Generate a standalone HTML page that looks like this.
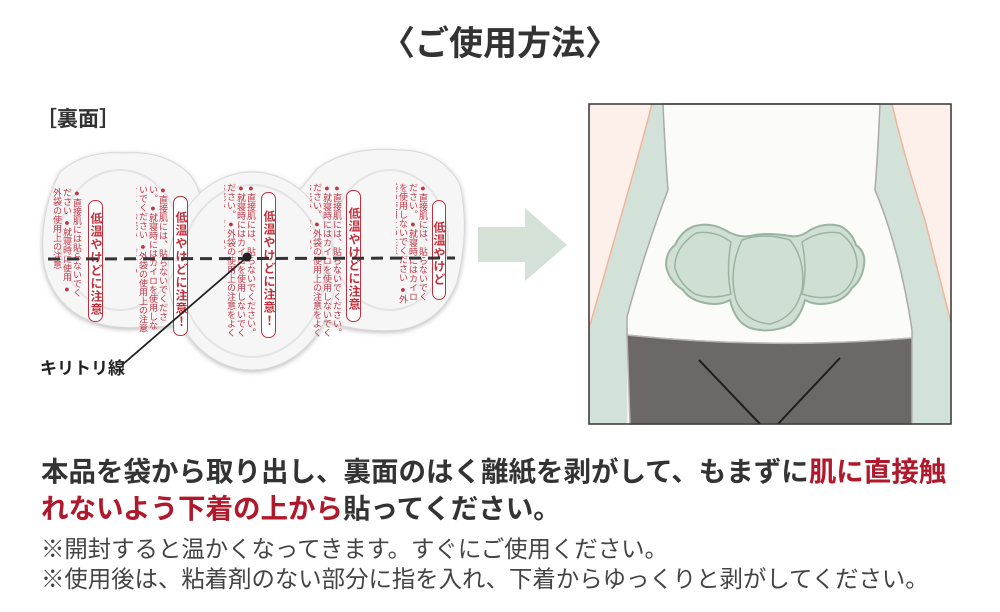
<!DOCTYPE html>
<html><head><meta charset="utf-8"><style>
body{margin:0;background:#fff;width:1000px;height:612px;overflow:hidden;position:relative;font-family:"Liberation Sans","Noto Sans CJK JP",sans-serif;color:#333}
.a{position:absolute;white-space:nowrap}
.cap{position:absolute;border:1.5px solid #c0303c;border-radius:7px;writing-mode:vertical-rl;color:#c0303c;font-size:12px;font-weight:bold;text-align:center;line-height:13px;padding-top:6px;box-sizing:border-box;overflow:hidden;letter-spacing:1px;background:#fff}
.sm{position:absolute;writing-mode:vertical-rl;color:#c23444;font-size:9px;line-height:10px;overflow:hidden}
</style></head><body>
<div class="a" style="left:381px;top:16px;font-size:34px;font-weight:bold;color:#333">〈ご使用方法〉</div>
<div class="a" style="left:36px;top:103px;font-size:21px;font-weight:bold;color:#333">［裏面］</div>

<svg class="a" style="left:0;top:0" width="1000" height="440">
<defs><filter id="sh"><feDropShadow dx="0" dy="1.5" stdDeviation="2.5" flood-color="#888" flood-opacity="0.55"/></filter></defs>
<g fill="#f6f6f7" stroke="#d8d8da" stroke-width="1" filter="url(#sh)">
<path d="M60,172 Q85,150 125,153 Q165,150 190,175 Q205,195 205,230 L205,300 Q190,330 150,326 Q110,332 80,316 Q52,300 44,265 Q38,215 60,172Z"/>
<path d="M318,168 Q350,146 398,150 Q442,150 460,185 Q470,230 457,282 Q442,322 400,330 Q360,333 330,322 L300,300 L300,190Z"/>
<ellipse cx="252" cy="271" rx="84" ry="99"/>
</g>
<ellipse cx="252" cy="271" rx="72" ry="86" fill="none" stroke="#e4e4e6" stroke-width="2"/>
<ellipse cx="120" cy="240" rx="60" ry="70" fill="none" stroke="#e4e4e6" stroke-width="2"/>
<ellipse cx="390" cy="240" rx="58" ry="70" fill="none" stroke="#e4e4e6" stroke-width="2"/>
</svg>

<div class="sm" style="left:52px;top:188px;width:30px;height:110px">●直接肌には貼らないでください ●就寝時に使用 ●外袋の使用上の注意</div>
<div class="cap" style="left:88px;top:200px;width:15px;height:122px">低温やけどに注意</div>
<div class="sm" style="left:136px;top:185px;width:32px;height:150px">●直接肌には、貼らないでください。●就寝時にはカイロを使用しないでください ●外袋の使用上の注意をよくお読みください</div>
<div class="cap" style="left:173px;top:196px;width:15px;height:140px">低温やけどに注意！</div>
<div class="sm" style="left:224px;top:183px;width:32px;height:160px">●直接肌には、貼らないでください。●就寝時にはカイロを使用しないでください。●外袋の使用上の注意をよくお読みください。</div>
<div class="cap" style="left:261px;top:192px;width:15px;height:146px">低温やけどに注意！</div>
<div class="sm" style="left:310px;top:183px;width:32px;height:155px">●直接肌には、貼らないでください。●就寝時にはカイロを使用しないでください。●外袋の使用上の注意をよくお読みください。</div>
<div class="cap" style="left:346px;top:190px;width:15px;height:132px">低温やけどに注意</div>
<div class="sm" style="left:396px;top:183px;width:32px;height:125px">●直接肌には、貼らないでください。●就寝時にはカイロを使用しないでください ●外袋の使用上の注意</div>
<div class="cap" style="left:432px;top:200px;width:14px;height:100px">低温やけど</div>

<svg class="a" style="left:0;top:0" width="1000" height="440">
<line x1="48" y1="259" x2="455" y2="258" stroke="#333" stroke-width="3" stroke-dasharray="12,7"/>
<line x1="247" y1="257" x2="122" y2="365" stroke="#222" stroke-width="1.8"/>
<circle cx="247" cy="257" r="4.5" fill="#222"/>
<polygon points="478,227 525,227 525,208 567,245 525,281 525,262 478,262" fill="#d4e1d7"/>
<rect x="589" y="104" width="362" height="320" fill="#fdf0ea"/>
<path d="M652,104 L663,104 Q665,150 668,190 Q645,250 627,317 L627,424 L589,424 L589,325 Q600,290 620,220 Q640,150 652,104Z" fill="#d3e2d8"/>
<path d="M652,104 Q640,150 620,220 Q600,290 590,325" fill="none" stroke="#f2b49a" stroke-width="1.5"/>
<path d="M880,104 L892,104 Q905,160 925,220 Q940,280 951,322 L951,424 L912,424 L912,330 Q890,250 875,190 Q878,150 880,104Z" fill="#d3e2d8"/>
<path d="M892,104 Q905,160 925,220 Q940,280 951,322" fill="none" stroke="#f2b49a" stroke-width="1.5"/>
<path d="M663,104 L880,104 Q878,150 875,190 Q900,250 912,330 L912,338 Q770,350 627,335 L627,317 Q645,250 668,190 Q665,150 663,104Z" fill="#fbfbf8" stroke="#aaa" stroke-width="1.5"/>
<path d="M627,335 Q770,350 912,338 L912,424 L630,424Z" fill="#6c6866" stroke="#b8b4b2" stroke-width="1.5"/>
<line x1="699" y1="360" x2="760" y2="424" stroke="#1e1e1e" stroke-width="2"/>
<line x1="840" y1="358" x2="778" y2="424" stroke="#1e1e1e" stroke-width="2"/>
<path d="M695,226 Q710,222 725,230 Q738,238 750,236 Q765,232 790,236 Q800,238 810,230 Q825,222 840,226 Q852,232 856,245 Q866,252 864,265 Q862,280 852,288 Q845,300 830,303 Q815,306 805,300 Q800,318 790,325 Q770,334 750,328 Q735,322 730,300 Q720,306 705,303 Q690,300 683,290 Q668,280 666,265 Q666,252 675,245 Q682,230 695,226Z" fill="#cfdfd3" stroke="#9ab49f" stroke-width="2"/>
<g fill="none" stroke="#9ab49f" stroke-width="1.5">
<path d="M742,240 Q765,232 790,240 Q806,260 802,290 Q795,318 770,324 Q745,322 736,300 Q728,270 742,240Z"/>
<path d="M696,233 Q715,230 731,242 Q726,270 731,294 Q712,300 695,294 Q680,285 675,268 Q674,248 696,233Z"/>
<path d="M802,242 Q820,230 840,233 Q857,245 857,266 Q852,290 836,296 Q820,300 802,294 Q808,270 802,242Z"/>
</g>
<rect x="589" y="104" width="362" height="320" fill="none" stroke="#333" stroke-width="1.5"/>
</svg>

<div class="a" style="left:40px;top:354px;font-size:17px;font-weight:bold;color:#222">キリトリ線</div>

<div class="a" style="left:41px;top:453px;font-size:27.5px;font-weight:bold;color:#333;line-height:37px">本品を袋から取り出し、裏面のはく離紙を剥がして、もまずに<span style="color:#b0182c">肌に直接触</span><br><span style="color:#b0182c">れないよう下着の上から</span>貼ってください。</div>
<div class="a" style="left:41px;top:534px;font-size:23.4px;color:#444;line-height:30px">※開封すると温かくなってきます。すぐにご使用ください。<br>※使用後は、粘着剤のない部分に指を入れ、下着からゆっくりと剥がしてください。</div>
</body></html>
